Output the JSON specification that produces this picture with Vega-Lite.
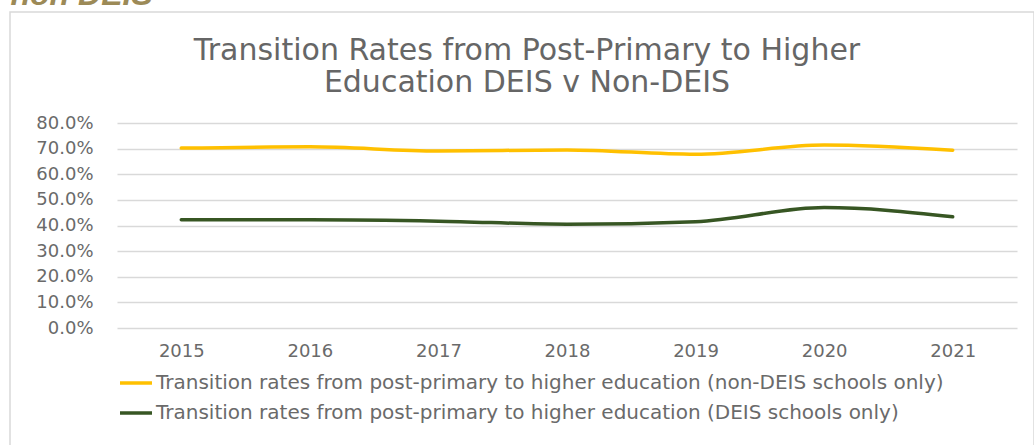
{
  "$schema": "https://vega.github.io/schema/vega-lite/v6.json",
  "width": 1024,
  "height": 440,
  "autosize": {"type": "none"},
  "padding": {"left": 10, "top": 12, "right": 0, "bottom": 0},
  "background": "white",
  "title": {
    "text": ["Transition Rates from Post-Primary to Higher", "Education DEIS v Non-DEIS"],
    "font": "DejaVu Sans",
    "fontSize": 30,
    "fontWeight": "normal",
    "color": "#666666",
    "anchor": "middle",
    "frame": "group",
    "baseline": "top",
    "lineHeight": 32,
    "offset": -120,
    "dx": 5
  },
  "config": {
    "view": {"stroke": "#d9d9d9", "strokeWidth": 1.5, "fill": "white"}
  },
  "data": {
    "values": [
      {"year": "2015", "series": "Transition rates from post-primary to higher education (non-DEIS schools only)", "value": 0.702},
      {"year": "2016", "series": "Transition rates from post-primary to higher education (non-DEIS schools only)", "value": 0.707},
      {"year": "2017", "series": "Transition rates from post-primary to higher education (non-DEIS schools only)", "value": 0.691},
      {"year": "2018", "series": "Transition rates from post-primary to higher education (non-DEIS schools only)", "value": 0.695},
      {"year": "2019", "series": "Transition rates from post-primary to higher education (non-DEIS schools only)", "value": 0.678},
      {"year": "2020", "series": "Transition rates from post-primary to higher education (non-DEIS schools only)", "value": 0.714},
      {"year": "2021", "series": "Transition rates from post-primary to higher education (non-DEIS schools only)", "value": 0.694},
      {"year": "2015", "series": "Transition rates from post-primary to higher education (DEIS schools only)", "value": 0.422},
      {"year": "2016", "series": "Transition rates from post-primary to higher education (DEIS schools only)", "value": 0.422},
      {"year": "2017", "series": "Transition rates from post-primary to higher education (DEIS schools only)", "value": 0.417},
      {"year": "2018", "series": "Transition rates from post-primary to higher education (DEIS schools only)", "value": 0.405},
      {"year": "2019", "series": "Transition rates from post-primary to higher education (DEIS schools only)", "value": 0.415},
      {"year": "2020", "series": "Transition rates from post-primary to higher education (DEIS schools only)", "value": 0.470},
      {"year": "2021", "series": "Transition rates from post-primary to higher education (DEIS schools only)", "value": 0.434}
    ]
  },
  "mark": {"type": "line", "strokeWidth": 3.5, "interpolate": "monotone", "strokeCap": "round"},
  "encoding": {
    "x": {
      "field": "year",
      "type": "ordinal",
      "scale": {"type": "point", "range": [107, 1007], "padding": 0.5},
      "axis": {
        "offset": -124,
        "domain": false,
        "ticks": false,
        "grid": false,
        "labelAngle": 0,
        "labelFont": "DejaVu Sans",
        "labelFontSize": 18,
        "labelColor": "#6a6a6a",
        "labelPadding": 14,
        "title": null
      }
    },
    "y": {
      "field": "value",
      "type": "quantitative",
      "scale": {"domain": [0, 0.8], "range": [316, 111], "nice": false},
      "axis": {
        "offset": -107,
        "format": ".1%",
        "values": [0, 0.1, 0.2, 0.3, 0.4, 0.5, 0.6, 0.7, 0.8],
        "domain": false,
        "ticks": false,
        "grid": true,
        "gridColor": "#d9d9d9",
        "gridWidth": 1.5,
        "labelFont": "DejaVu Sans",
        "labelFontSize": 18,
        "labelColor": "#6a6a6a",
        "labelPadding": 24,
        "title": "non DEIS",
        "titleAngle": 0,
        "titleX": -107,
        "titleY": -8,
        "titleAlign": "left",
        "titleBaseline": "alphabetic",
        "titleFont": "Liberation Sans",
        "titleFontSize": 32,
        "titleFontStyle": "italic",
        "titleFontWeight": "bold",
        "titleColor": "#9c8a57"
      }
    },
    "color": {
      "field": "series",
      "type": "nominal",
      "sort": null,
      "scale": {
        "domain": [
          "Transition rates from post-primary to higher education (non-DEIS schools only)",
          "Transition rates from post-primary to higher education (DEIS schools only)"
        ],
        "range": ["#ffc000", "#375623"]
      },
      "legend": {
        "orient": "none",
        "legendX": 108,
        "legendY": 353,
        "direction": "vertical",
        "title": null,
        "symbolType": "stroke",
        "symbolSize": 1024,
        "symbolStrokeWidth": 3.5,
        "labelFont": "DejaVu Sans",
        "labelFontSize": 20,
        "labelColor": "#6a6a6a",
        "labelOffset": 2,
        "rowPadding": 2,
        "padding": 0,
        "labelLimit": 0
      }
    }
  }
}
